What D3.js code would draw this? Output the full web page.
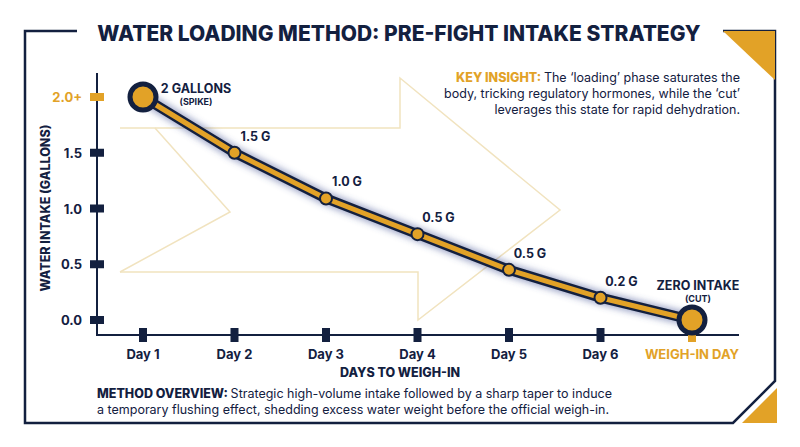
<!DOCTYPE html>
<html><head><meta charset="utf-8">
<script src="https://cdn.jsdelivr.net/npm/d3@7"></script>
<style>body{margin:0;background:#fff}text{font-family:Inter,"Noto Sans",sans-serif}</style>
</head><body>
<svg id="c" width="800" height="447"></svg>
<script>
// dati
const days = ["Day 1", "Day 2", "Day 3", "Day 4", "Day 5", "Day 6", "WEIGH-IN DAY"];
const intake = [2.0, 1.5, 1.09, 0.77, 0.45, 0.2, 0];
const pointLabels = ["2 GALLONS", "1.5 G", "1.0 G", "0.5 G", "0.5 G", "0.2 G", "ZERO INTAKE"];
const subLabels = ["(SPIKE)", "", "", "", "", "", "(CUT)"];
const yTicks = [0, 0.5, 1.0, 1.5, 2.0];
const yTickLabels = ["0.0", "0.5", "1.0", "1.5", "2.0+"];

const navy = "#13203f", gold = "#e2a227";
const svg = d3.select("#c");

/* cornice */
svg.append("path").attr("d", "M77,31 H25 V423 H733 L775,381 V31 H723")
    .attr("fill", "none").attr("stroke", navy).attr("stroke-width", 2.5);
svg.append("path").attr("d", "M723,31 H775 V80 Z").attr("fill", gold);
svg.append("path").attr("d", "M742,423 H777 V388 Z").attr("fill", gold);

/* freccia di sfondo */
svg.append("path").attr("d", "M120,128 H400 V78 L560,210 L418,320 V272 H120")
    .attr("fill", "none").attr("stroke", "#f1e3bf").attr("stroke-width", 1.5);
svg.append("path").attr("d", "M155,128 L230,212 L120,272")
    .attr("fill", "none").attr("stroke", "#f1e3bf").attr("stroke-width", 1.5);

svg.append("text").attr("x", 399).attr("y", 41).attr("text-anchor", "middle")
    .attr("font-size", 21).attr("font-weight", 800).attr("fill", navy)
    .text("WATER LOADING METHOD: PRE-FIGHT INTAKE STRATEGY");

const x = d3.scalePoint().domain(days).range([143, 692]);
const y = d3.scaleLinear().domain([0, 2]).range([320, 97]);

/* assi */
svg.append("path").attr("d", "M97,73 V335 H739").attr("fill", "none")
    .attr("stroke", navy).attr("stroke-width", 2);
yTicks.forEach((t, i) => {
    const last = i === yTicks.length - 1;
    svg.append("rect").attr("x", 90).attr("y", y(t) - 4).attr("width", 14).attr("height", 8)
        .attr("fill", last ? gold : navy);
    svg.append("text").attr("x", 82).attr("y", y(t) + 5).attr("text-anchor", "end")
        .attr("font-size", 13).attr("font-weight", 700).attr("fill", last ? gold : navy)
        .text(yTickLabels[i]);
});
days.forEach((d, i) => {
    const last = i === days.length - 1;
    svg.append("rect").attr("x", x(d) - 4).attr("y", 328).attr("width", 8).attr("height", 14)
        .attr("fill", last ? gold : navy);
    svg.append("text").attr("x", x(d)).attr("y", 359).attr("text-anchor", "middle")
        .attr("font-size", 13).attr("font-weight", 700).attr("fill", last ? gold : navy).text(d);
});
svg.append("text").attr("x", 400).attr("y", 377).attr("text-anchor", "middle")
    .attr("font-size", 12.5).attr("font-weight", 800).attr("fill", navy).text("DAYS TO WEIGH-IN");
svg.append("text").attr("transform", "translate(50,208) rotate(-90)").attr("text-anchor", "middle")
    .attr("font-size", 12.5).attr("font-weight", 800).attr("fill", navy).text("WATER INTAKE (GALLONS)");

/* linea */
const pts = days.map((d, i) => [x(d), y(intake[i])]);
const line = d3.line();
svg.append("defs").append("filter").attr("id", "glow")
    .append("feGaussianBlur").attr("stdDeviation", 3);
svg.append("path").attr("d", line(pts)).attr("fill", "none").attr("stroke", "#4a5a9a")
    .attr("stroke-opacity", 0.5).attr("stroke-width", 14).attr("filter", "url(#glow)");
svg.append("path").attr("d", line(pts)).attr("fill", "none").attr("stroke", navy)
    .attr("stroke-width", 10).attr("stroke-linejoin", "round");
svg.append("path").attr("d", line(pts)).attr("fill", "none").attr("stroke", gold)
    .attr("stroke-width", 5).attr("stroke-linejoin", "round");

pts.forEach((p, i) => {
    const big = i === 0 || i === pts.length - 1;
    svg.append("circle").attr("cx", p[0]).attr("cy", p[1]).attr("r", big ? 13 : 6)
        .attr("fill", gold).attr("stroke", navy).attr("stroke-width", big ? 5 : 2);
});

/* etichette dei punti */
pointLabels.forEach((l, i) => {
    const p = pts[i];
    let lx = p[0] + 21, ly = p[1] - 12;
    if (i === 0) { lx = p[0] + 53; ly = p[1] - 4; }
    if (i === pts.length - 1) { lx = p[0] + 6; ly = p[1] - 30; }
    svg.append("text").attr("x", lx).attr("y", ly).attr("text-anchor", "middle")
        .attr("font-size", 12.5).attr("font-weight", 700).attr("fill", navy).text(l);
    if (subLabels[i]) svg.append("text").attr("x", lx).attr("y", ly + 12).attr("text-anchor", "middle")
        .attr("font-size", 9).attr("font-weight", 700).attr("fill", navy).text(subLabels[i]);
});

/* riquadri di testo */
const ki = svg.append("text").attr("text-anchor", "end").attr("font-size", 12.5).attr("fill", navy);
[["KEY INSIGHT: ", "The ‘loading’ phase saturates the"],
 ["", "body, tricking regulatory hormones, while the ‘cut’"],
 ["", "leverages this state for rapid dehydration."]].forEach((r, i) => {
    const t = ki.append("tspan").attr("x", 740).attr("y", 82 + i * 16);
    if (r[0]) t.append("tspan").attr("fill", gold).attr("font-weight", 800).text(r[0]);
    t.append("tspan").text(r[1]);
});
const mo = svg.append("text").attr("font-size", 12.5).attr("fill", navy);
const l1 = mo.append("tspan").attr("x", 97).attr("y", 398);
l1.append("tspan").attr("font-weight", 800).text("METHOD OVERVIEW: ");
l1.append("tspan").text("Strategic high-volume intake followed by a sharp taper to induce");
mo.append("tspan").attr("x", 97).attr("y", 414)
    .text("a temporary flushing effect, shedding excess water weight before the official weigh-in.");
</script>
</body></html>
